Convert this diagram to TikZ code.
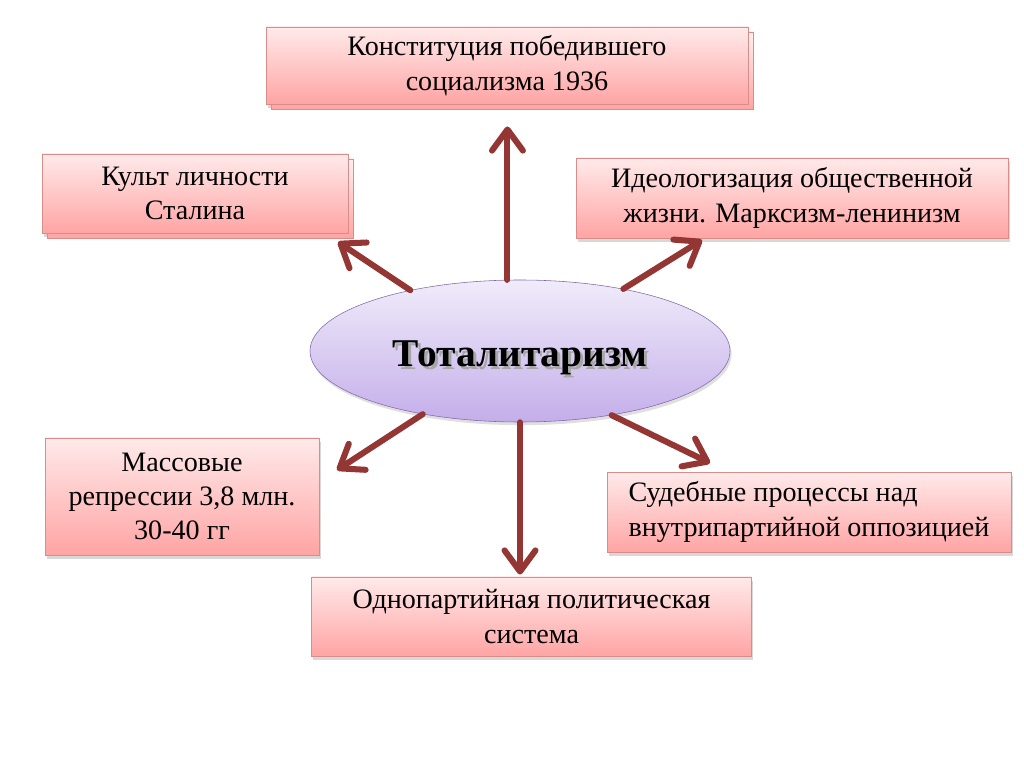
\documentclass[tikz,border=0pt]{standalone}
\usepackage{fontspec}
\setmainfont{Liberation Serif}
\usetikzlibrary{shapes.geometric,arrows.meta,shadows}

\definecolor{boxtop}{HTML}{FFEAEA}
\definecolor{boxbot}{HTML}{FFA4A4}
\definecolor{boxline}{HTML}{D98C8A}
\definecolor{elltop}{HTML}{F0ECFA}
\definecolor{ellbot}{HTML}{C4AEEA}
\definecolor{ellline}{HTML}{8468A8}
\definecolor{arrred}{HTML}{943634}

\newcommand{\shadowtxt}[1]{\makebox[0pt][l]{\hspace{2pt}\raisebox{-2pt}{\textcolor{black!35}{#1}}}#1}

\begin{document}
\begin{tikzpicture}[
    box/.style={draw=boxline, top color=boxtop, bottom color=boxbot, minimum height=2cm, align=center,
        font=\fontsize{20}{24.5}\selectfont, inner sep=4pt,
        drop shadow={shadow xshift=0.04cm, shadow yshift=-0.1cm, opacity=0.3}},
    stack/.style={copy shadow={shadow xshift=0.12cm, shadow yshift=-0.12cm, top color=boxtop!70, bottom color=boxbot, draw=boxline}},
    arr/.style={-{Straight Barb[length=15pt,width=22pt,round]}, line width=4.3pt, draw=arrred, line cap=round}
]
    \useasboundingbox[fill=white] (0,0) rectangle (25.6,-19.175);

    % Central ellipse
    \node[ellipse, draw=ellline, top color=elltop, bottom color=ellbot, minimum width=10.5cm, minimum height=3.55cm,
        font=\fontsize{28}{34}\selectfont\bfseries,
        drop shadow={shadow xshift=0.04cm, shadow yshift=-0.08cm, opacity=0.25}] (tot) at (13,-8.775)
        {\raisebox{-6pt}[\height][\depth]{\shadowtxt{Тоталитаризм}}};

    % Surrounding boxes (top to bottom)
    \node[box, stack, minimum width=12.05cm, minimum height=1.93cm] (konst) at (12.675,-1.64)
        {Конституция победившего\\социализма 1936};
    \node[box, stack, minimum width=7.65cm, minimum height=1.98cm] (kult) at (4.875,-4.84)
        {Культ личности\\Сталина};
    \node[box, minimum width=10.8cm] (ideol) at (19.8,-4.95)
        {Идеологизация общественной\\жизни. Марксизм-ленинизм};
    \node[box, minimum width=6.85cm, minimum height=2.93cm] (mass) at (4.55,-12.41)
        {Массовые\\репрессии 3,8 млн.\\30-40 гг};
    \node[box, align=left, minimum width=10.1cm] (sud) at (20.225,-12.8)
        {Судебные процессы над\\внутрипартийной оппозицией};
    \node[box, minimum width=11cm, minimum height=1.98cm] (odno) at (13.29,-15.41)
        {Однопартийная политическая\\система};

    % Arrow tips near the boxes
    \coordinate (kultTip) at (8.45,-6.05);
    \coordinate (ideolTip) at (17.55,-6.0);
    \coordinate (massTip) at (8.425,-11.75);
    \coordinate (sudTip) at (17.75,-11.575);

    % Arrows from the ellipse
    \draw[arr, shorten >=0.55cm] (tot.100) -- (tot.100 |- konst.south);
    \draw[arr] (tot.151) -- (kultTip);
    \draw[arr] (tot.31) -- (ideolTip);
    \draw[arr] (tot.213) -- (massTip);
    \draw[arr] (tot.325) -- (sudTip);
    \draw[arr, shorten >=0.05cm] (tot.south) -- (tot.south |- odno.north);
\end{tikzpicture}
\end{document}
